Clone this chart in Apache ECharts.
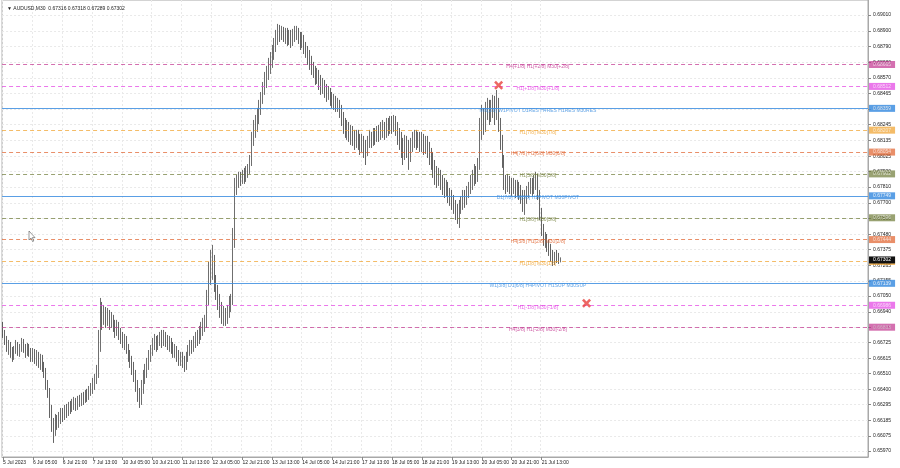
<!DOCTYPE html>
<html><head><meta charset="utf-8">
<script src="https://cdn.jsdelivr.net/npm/echarts@6/dist/echarts.min.js"></script>
<style>html,body{margin:0;padding:0;background:#fff}#c{width:900px;height:468px}</style>
</head><body><div id="c"></div>
<script>
// ---------- data ----------
const headerText = '\u25BC AUDUSD,M30  0.67316 0.67318 0.67289 0.67302';
const barsPerLabel = 16; // hourly bars between time labels
const xLabels = ['5 Jul 2023','6 Jul 05:00','6 Jul 21:00','7 Jul 13:00','10 Jul 05:00','10 Jul 21:00','11 Jul 13:00','12 Jul 05:00','12 Jul 21:00','13 Jul 13:00','14 Jul 05:00','14 Jul 21:00','17 Jul 13:00','18 Jul 05:00','18 Jul 21:00','19 Jul 13:00','20 Jul 05:00','20 Jul 21:00','21 Jul 13:00'];
const yTicks = [0.65970,0.66075,0.66185,0.66295,0.66400,0.66510,0.66615,0.66725,0.66830,0.66940,0.67050,0.67155,0.67265,0.67375,0.67480,0.67590,0.67700,0.67810,0.67920,0.68025,0.68135,0.68245,0.68355,0.68465,0.68570,0.68680,0.68790,0.68900,0.69010];
// prices in points (x 1e-5)
const opens = [66828,
66779,66744,66688,66709,66661,66633,66674,66709,66661,66688,66730,66688,66661,66695,66661,66633,
66661,66619,66640,66591,66619,66563,66521,66430,66382,66256,66151,66117,66186,66158,66200,66228,
66214,66256,66242,66284,66256,66291,66312,66284,66326,66305,66340,66326,66361,66347,66382,66409,
66430,66465,66535,66744,66939,66898,66939,66884,66919,66870,66898,66849,66814,66842,66786,66758,
66730,66744,66688,66640,66591,66549,66500,66430,66361,66326,66396,66479,66521,66570,66619,66661,
66709,66744,66702,66730,66758,66730,66772,66744,66709,66730,66688,66661,66674,66633,66605,66619,
66591,66563,66619,66674,66702,66688,66730,66758,66744,66786,66814,66842,66870,67023,67197,67246,
67288,67163,67079,67023,66953,66898,66925,66884,66939,66988,67023,67441,67804,67846,67874,67860,
67888,67874,67916,67930,67985,68139,68209,68243,68292,68348,68432,68487,68543,68592,68641,68683,
68731,68780,68836,68892,68871,68906,68864,68892,68850,68878,68836,68871,68892,68906,68864,68822,
68836,68794,68752,68711,68683,68641,68613,68571,68585,68543,68501,68522,68487,68453,68473,68432,
68404,68418,68376,68390,68348,68292,68243,68209,68222,68174,68195,68153,68125,68167,68139,68104,
68125,68083,68069,68125,68153,68139,68174,68153,68195,68174,68209,68222,68195,68236,68222,68250,
68236,68264,68222,68174,68139,68104,68069,68125,68083,68034,68104,68139,68167,68139,68153,68125,
68139,68104,68125,68083,68034,67999,67944,67895,67860,67888,67846,67825,67790,67804,67755,67734,
67706,67679,67637,67616,67665,67706,67734,67720,67762,67804,67846,67874,67916,67888,67964,68209,
68292,68243,68334,68383,68313,68362,68418,68348,68383,68243,68139,67999,67846,67818,67860,67825,
67804,67832,67790,67818,67776,67748,67686,67734,67776,67804,67832,67804,67846,67874,67755,67637,
67525,67441,67455,67400,67372,67330,67288,67337,67316,67288];
const closes = [
66779,66744,66688,66709,66661,66633,66674,66709,66661,66688,66730,66688,66661,66695,66661,66633,
66661,66619,66640,66591,66619,66563,66521,66430,66382,66256,66151,66117,66186,66158,66200,66228,
66214,66256,66242,66284,66256,66291,66312,66284,66326,66305,66340,66326,66361,66347,66382,66409,
66430,66465,66535,66744,66939,66898,66939,66884,66919,66870,66898,66849,66814,66842,66786,66758,
66730,66744,66688,66640,66591,66549,66500,66430,66361,66326,66396,66479,66521,66570,66619,66661,
66709,66744,66702,66730,66758,66730,66772,66744,66709,66730,66688,66661,66674,66633,66605,66619,
66591,66563,66619,66674,66702,66688,66730,66758,66744,66786,66814,66842,66870,67023,67197,67246,
67288,67163,67079,67023,66953,66898,66925,66884,66939,66988,67023,67441,67804,67846,67874,67860,
67888,67874,67916,67930,67985,68139,68209,68243,68292,68348,68432,68487,68543,68592,68641,68683,
68731,68780,68836,68892,68871,68906,68864,68892,68850,68878,68836,68871,68892,68906,68864,68822,
68836,68794,68752,68711,68683,68641,68613,68571,68585,68543,68501,68522,68487,68453,68473,68432,
68404,68418,68376,68390,68348,68292,68243,68209,68222,68174,68195,68153,68125,68167,68139,68104,
68125,68083,68069,68125,68153,68139,68174,68153,68195,68174,68209,68222,68195,68236,68222,68250,
68236,68264,68222,68174,68139,68104,68069,68125,68083,68034,68104,68139,68167,68139,68153,68125,
68139,68104,68125,68083,68034,67999,67944,67895,67860,67888,67846,67825,67790,67804,67755,67734,
67706,67679,67637,67616,67665,67706,67734,67720,67762,67804,67846,67874,67916,67888,67964,68209,
68292,68243,68334,68383,68313,68362,68418,68348,68383,68243,68139,67999,67846,67818,67860,67825,
67804,67832,67790,67818,67776,67748,67686,67734,67776,67804,67832,67804,67846,67874,67755,67637,
67525,67441,67455,67400,67372,67330,67288,67337,67316,67288,67302];
const highs = [
66870,66814,66772,66744,66730,66695,66702,66744,66730,66716,66758,66751,66716,66723,66716,66688,
66688,66681,66674,66661,66647,66640,66591,66549,66465,66409,66291,66200,66228,66221,66242,66270,
66270,66291,66298,66312,66319,66333,66347,66340,66354,66361,66375,66382,66396,66403,66423,66444,
66479,66507,66570,66814,67037,67009,66988,66974,66967,66953,66939,66919,66884,66884,66870,66828,
66800,66786,66772,66716,66674,66633,66591,66535,66465,66409,66465,66535,66577,66619,66674,66709,
66758,66786,66772,66779,66800,66814,66814,66800,66779,66772,66758,66730,66716,66702,66674,66661,
66661,66633,66661,66709,66744,66744,66772,66800,66814,66842,66870,66898,66919,67093,67288,67372,
67407,67337,67197,67128,67065,67009,66981,66967,66988,67051,67065,67525,67874,67895,67916,67916,
67930,67944,67957,67971,68034,68195,68278,68313,68362,68418,68473,68543,68613,68655,68711,68752,
68801,68850,68906,68948,68941,68934,68927,68920,68920,68906,68906,68913,68934,68934,68920,68892,
68892,68871,68822,68794,68766,68725,68683,68655,68641,68627,68592,68571,68557,68529,68515,68501,
68473,68460,68446,68432,68418,68383,68334,68292,68278,68264,68243,68236,68209,68209,68209,68181,
68181,68167,68139,68167,68209,68195,68222,68222,68236,68243,68264,68278,68264,68292,68292,68306,
68306,68313,68306,68264,68222,68195,68153,68174,68167,68139,68153,68195,68209,68209,68195,68195,
68195,68181,68167,68167,68125,68083,68055,67999,67957,67944,67930,67895,67874,67860,67846,67804,
67790,67755,67720,67693,67720,67748,67790,67790,67818,67846,67895,67930,67971,67957,68013,68292,
68383,68362,68404,68432,68418,68418,68453,68446,68487,68432,68292,68174,68034,67895,67902,67888,
67874,67874,67860,67860,67846,67825,67790,67790,67818,67846,67874,67874,67895,67916,67902,67790,
67665,67553,67497,67483,67441,67414,67372,67358,67372,67351,67320];
const lows = [
66758,66709,66661,66640,66619,66591,66605,66647,66633,66626,66661,66654,66619,66633,66626,66591,
66591,66577,66563,66549,66535,66521,66479,66396,66340,66200,66103,66026,66075,66117,66131,66158,
66172,66186,66200,66214,66228,66242,66256,66249,66256,66277,66284,66291,66305,66312,66326,66354,
66368,66396,66437,66479,66661,66814,66849,66828,66842,66814,66828,66800,66758,66772,66744,66716,
66688,66674,66647,66591,66549,66500,66451,66382,66312,66270,66291,66368,66437,66479,66535,66591,
66633,66674,66661,66674,66702,66688,66702,66695,66674,66661,66647,66619,66619,66591,66563,66563,
66549,66521,66535,66591,66633,66647,66661,66688,66702,66716,66744,66772,66800,66828,66988,67128,
67163,67079,67023,66953,66898,66856,66842,66842,66856,66898,66939,66988,67386,67755,67804,67818,
67832,67832,67846,67874,67902,67957,68097,68153,68195,68250,68313,68390,68453,68501,68557,68599,
68641,68697,68752,68801,68822,68836,68822,68808,68794,68801,68780,68794,68822,68836,68808,68766,
68780,68738,68711,68662,68627,68592,68571,68522,68529,68487,68453,68460,68432,68404,68418,68376,
68362,68348,68334,68334,68292,68236,68181,68153,68139,68125,68104,68097,68069,68083,68069,68034,
68055,68013,67964,68027,68083,68083,68097,68104,68125,68125,68139,68153,68139,68153,68167,68181,
68181,68195,68167,68104,68069,68013,67964,67999,68013,67930,67985,68055,68083,68069,68083,68055,
68055,68034,68041,68013,67964,67930,67874,67825,67804,67818,67790,67755,67734,67748,67699,67679,
67651,67623,67581,67553,67525,67623,67651,67665,67686,67734,67762,67790,67818,67832,67846,67930,
68139,68174,68195,68278,68243,68264,68292,68243,68278,68195,68069,67944,67790,67762,67776,67762,
67748,67762,67734,67748,67720,67693,67637,67616,67693,67734,67762,67748,67762,67790,67720,67581,
67469,67400,67386,67358,67330,67288,67260,67267,67281,67274,67285];
const lastPrice = 0.67302;
const levelPrices = [0.68665,0.68512,0.68359,0.68207,0.68054,0.67902,0.67749,0.67596,0.67444,0.67291,0.67139,0.66986,0.66833];
const levelTexts = ['H4[+1/8] H1[+2/8] M30[+2/8]','H1[+1/8] M30[+1/8]','MN[5/8] W1PIVOT D1RES H4RES H1RES M30RES','H1[7/8] M30[7/8]','H4[7/8] H1[6/8] M30[6/8]','H1[5/8] M30[5/8]','D1[7/8] H4[6/8] H1PIVOT M30PIVOT','H1[3/8] M30[3/8]','H4[5/8] H1[2/8] M30[2/8]','H1[1/8] M30[1/8]','W1[3/8] D1[6/8] H4PIVOT H1SUP M30SUP','H1[-1/8] M30[-1/8]','H4[3/8] H1[-2/8] M30[-2/8]'];
const levelTextBar = 286;
const markerBars = [265, 312];
const markerPrices = [0.6852, 0.6700];
const yMin = 0.659279, yMax = 0.691146;
const nSlots = 463;

// ---------- styles ----------
const levelColors = ['#c2338f','#e23fe2','#3d8ee0','#f0a028','#e0602a','#6e7a36','#3d8ee0','#6e7a36','#e0602a','#f0a028','#3d8ee0','#e23fe2','#c2338f'];
const levelSolid  = [false,false,true,false,false,false,true,false,false,false,true,false,false];
const FONT = 'Liberation Sans';

const cats = Array.from({length:nSlots}, (_, i) => String(i));
const candles = closes.map((c, i) => [opens[i]/1e5, c/1e5, lows[i]/1e5, highs[i]/1e5]);
const isLabel = (i) => i % barsPerLabel === 0 && i / barsPerLabel < xLabels.length;

const markLines = levelPrices.map((p, i) => ({
  name: 'L' + i,
  yAxis: p,
  lineStyle: {color: levelColors[i], width: 1, type: levelSolid[i] ? 'solid' : [4, 3], opacity: levelSolid[i] ? 0.85 : 0.7},
  label: {show: true, position: 'end', formatter: p.toFixed(5), color: '#fff', backgroundColor: levelColors[i],
          fontSize: 5, fontFamily: FONT, padding: [1, 4, 1, 4], distance: 1}
}));
markLines.push({
  name: 'last',
  yAxis: lastPrice,
  lineStyle: {color: 'rgba(0,0,0,0)', width: 0},
  label: {show: true, position: 'end', formatter: lastPrice.toFixed(5), color: '#fff', backgroundColor: '#111',
          fontSize: 5, fontFamily: FONT, padding: [1, 4, 1, 4], distance: 1}
});

const textData = levelPrices.map((p, i) => ({
  value: [levelTextBar, p],
  label: {color: levelColors[i]}
}));

const chart = echarts.init(document.getElementById('c'), null, {renderer: 'canvas'});
chart.setOption({
  animation: false,
  backgroundColor: '#fff',
  title: {text: headerText, left: 2, top: 1, textStyle: {fontSize: 5, fontWeight: 'normal', color: '#222', fontFamily: FONT}},
  grid: {left: 0, top: 0, right: 32, bottom: 11, show: true, borderColor: '#a8a8a8', borderWidth: 1},
  xAxis: {
    type: 'category', data: cats, boundaryGap: true,
    axisLine: {show: true, lineStyle: {color: '#a8a8a8'}},
    axisTick: {show: true, alignWithLabel: true, interval: isLabel, length: 3, lineStyle: {color: '#888'}},
    axisLabel: {interval: isLabel, formatter: (v, i) => xLabels[i / barsPerLabel] || '', align: 'left',
                fontSize: 5, fontFamily: FONT, color: '#222', margin: 3},
    splitLine: {show: true, interval: isLabel, lineStyle: {color: '#e9e9e9', type: [2, 2]}}
  },
  yAxis: {
    type: 'value', position: 'right', min: yMin, max: yMax, scale: true,
    axisLine: {show: true, lineStyle: {color: '#a8a8a8'}},
    axisTick: {show: true, customValues: yTicks, length: 3, lineStyle: {color: '#888'}},
    axisLabel: {customValues: yTicks, formatter: (v) => v.toFixed(5), fontSize: 5, fontFamily: FONT, color: '#222', margin: 5},
    splitLine: {show: true, lineStyle: {color: '#e9e9e9', type: [2, 2]}}
  },
  graphic: [{
    type: 'polygon', silent: true, z: 10,
    shape: {points: [[29,231],[29,240],[31,238],[32.6,241.6],[33.8,241],[32.3,237.6],[35,237.6]]},
    style: {fill: '#fff', stroke: '#555', lineWidth: 0.6}
  }],
  series: [
    {
      type: 'line', data: [], silent: true, symbol: 'none',
      markLine: {silent: true, symbol: 'none', animation: false, precision: 5, data: markLines},
      z: 2
    },
    {
      type: 'candlestick', data: candles, barWidth: 1,
      itemStyle: {color: '#8a8a8a', color0: '#3c3c3c', borderColor: '#4a4a4a', borderColor0: '#3c3c3c', borderWidth: 0.8},
      z: 3
    },
    {
      type: 'scatter', data: textData, symbolSize: 0, silent: true,
      label: {show: true, position: 'inside', offset: [0, 2], fontSize: 5, fontFamily: FONT,
              formatter: (p) => levelTexts[p.dataIndex]},
      z: 4
    },
    {
      type: 'scatter', data: markerBars.map((b, i) => [b, markerPrices[i]]), silent: true,
      symbol: 'path://M2,0 L5,3 L8,0 L10,2 L7,5 L10,8 L8,10 L5,7 L2,10 L0,8 L3,5 L0,2 Z',
      symbolSize: 9, itemStyle: {color: '#e8413c'}, z: 5
    }
  ]
});
</script></body></html>
